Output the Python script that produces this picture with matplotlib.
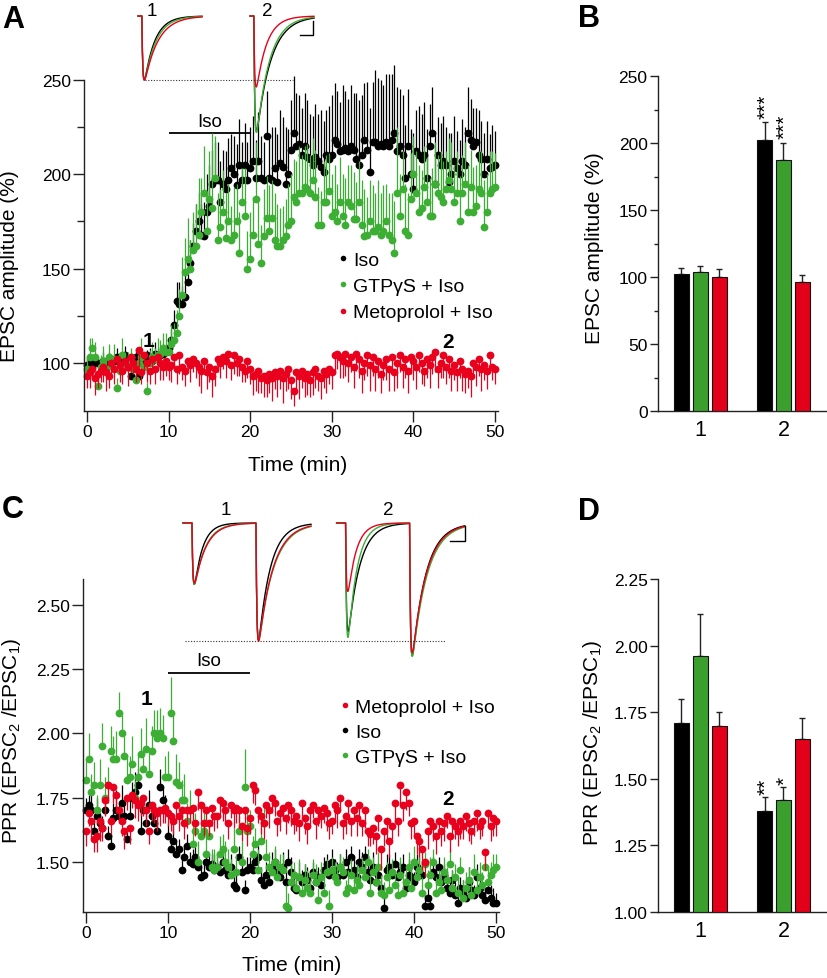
import numpy as np
import matplotlib
matplotlib.use('Agg')
import matplotlib.pyplot as plt
from matplotlib.lines import Line2D

plt.rcParams['font.family'] = ['Liberation Sans', 'DejaVu Sans']
plt.rcParams['mathtext.fontset'] = 'custom'
plt.rcParams['mathtext.rm'] = 'Liberation Sans'
plt.rcParams['mathtext.it'] = 'Liberation Sans:italic'
plt.rcParams['mathtext.bf'] = 'Liberation Sans:bold'

# ---------------- colours ----------------
BLACK = '#000000'
GREEN = '#3cae34'
RED = '#e8001c'
BAR_GREEN = '#3a9f2c'
BAR_RED = '#e2001a'

SAMPLES_PER_MIN = 3          # one sweep every 20 s
ISO_ON, ISO_OFF = 10, 20     # Iso application (min)

# ---------------- Panel A: EPSC amplitude (%) time courses ----------------
iso_amp = [
    99, 100, 98, 101, 100, 99, 101, 100, 102, 99,
    101, 103, 100, 102, 104, 98, 93, 101, 103, 93,
    100, 102, 104, 103, 101, 105, 103, 104, 105, 106,
    108, 112, 120, 133, 131, 131, 135, 143, 153, 162,
    170, 175, 168, 167, 180, 183, 195, 197, 197, 185,
    195, 192, 197, 203, 200, 194, 205, 197, 205, 197,
    203, 207, 198, 207, 198, 197, 220, 198, 197, 203,
    196, 206, 204, 195, 200, 213, 222, 215, 216, 210,
    215, 209, 208, 205, 209, 207, 204, 201, 210, 208,
    210, 218, 216, 212, 213, 214, 212, 215, 213, 208,
    205, 210, 218, 213, 201, 217, 217, 215, 216, 215,
    217, 215, 218, 222, 212, 215, 210, 198, 215, 200,
    192, 212, 210, 208, 210, 198, 215, 222, 195, 210,
    205, 207, 205, 196, 200, 207, 203, 200, 207, 205,
    222, 218, 215, 217, 210, 208, 200, 208, 203, 204,
    205]
iso_amp_err = [
    4, 3, 5, 4, 3, 4, 5, 3, 4, 5,
    4, 5, 3, 4, 5, 6, 4, 3, 5, 4,
    5, 4, 3, 5, 4, 6, 5, 4, 5, 4,
    5, 6, 8, 10, 12, 10, 12, 13, 12, 12,
    14, 15, 16, 18, 20, 22, 18, 20, 20, 22,
    18, 20, 22, 18, 20, 22, 24, 20, 22, 20,
    22, 24, 20, 26, 22, 20, 24, 23, 28, 22,
    25, 28, 26, 30, 24, 26, 30, 28, 26, 25,
    28, 30, 24, 26, 28, 25, 30, 27, 24, 28,
    32, 30, 28, 26, 34, 30, 28, 32, 30, 35,
    34, 32, 30, 36, 34, 32, 38, 36, 34, 32,
    36, 38, 35, 36, 34, 30, 32, 28, 30, 24,
    30, 22, 26, 24, 28, 26, 22, 24, 28, 20,
    22, 24, 20, 26, 22, 24, 20, 18, 22, 20,
    24, 22, 20, 18, 24, 20, 22, 20, 18, 22,
    18]
gtp_amp = [
    97, 103, 108, 103, 88, 98, 101, 97, 103, 99,
    102, 87, 96, 104, 100, 98, 103, 97, 91, 100,
    103, 98, 85, 100, 103, 102, 104, 105, 108, 106,
    106, 110, 112, 116, 125, 136, 148, 155, 150, 160,
    162, 168, 180, 190, 170, 187, 182, 198, 165, 172,
    180, 166, 175, 165, 168, 175, 158, 185, 178, 150,
    155, 168, 187, 163, 153, 167, 177, 170, 177, 165,
    162, 162, 165, 167, 173, 175, 188, 185, 190, 190,
    193, 192, 190, 197, 188, 173, 173, 185, 185, 191,
    178, 180, 175, 185, 178, 173, 185, 183, 176, 176,
    185, 173, 167, 168, 175, 170, 170, 172, 168, 170,
    175, 168, 165, 158, 190, 178, 192, 170, 168, 187,
    200, 190, 180, 182, 193, 185, 178, 178, 195, 190,
    188, 185, 192, 197, 192, 185, 190, 175, 190, 195,
    180, 193, 180, 183, 192, 190, 172, 180, 190, 192,
    193]
gtp_amp_err = [
    6, 10, 5, 8, 4, 6, 8, 5, 7, 6,
    8, 5, 7, 9, 6, 8, 5, 7, 6, 8,
    10, 6, 5, 7, 8, 6, 9, 7, 8, 10,
    8, 10, 9, 12, 14, 20, 18, 22, 15, 20,
    22, 30, 18, 25, 20, 25, 40, 22, 25, 20,
    22, 24, 20, 18, 25, 20, 22, 18, 25, 20,
    25, 20, 30, 22, 20, 25, 22, 24, 20, 25,
    22, 20, 18, 20, 22, 25, 20, 22, 25, 20,
    22, 24, 20, 22, 25, 20, 18, 22, 25, 20,
    22, 25, 20, 24, 22, 25, 20, 22, 25, 20,
    22, 24, 25, 20, 22, 24, 20, 25, 22, 24,
    20, 22, 25, 28, 35, 22, 20, 25, 22, 24,
    20, 22, 25, 20, 22, 24, 20, 25, 22, 20,
    24, 22, 20, 22, 25, 20, 22, 24, 20, 22,
    25, 20, 24, 22, 20, 22, 25, 20, 22, 20,
    18]
meto_amp = [
    93, 95, 97, 92, 94, 96, 98, 95, 93, 100,
    97, 102, 99, 96, 101, 98, 103, 100, 97, 107,
    95, 104, 100, 96, 102, 97, 103, 100, 98, 101,
    98, 99, 103, 97, 104, 98, 96, 101, 99, 102,
    100, 98, 96, 101, 95, 98, 93, 97, 102, 100,
    103, 101, 105, 99, 104, 100, 102, 98, 96, 101,
    97, 93, 94, 96, 92, 93, 91, 94, 92, 95,
    93, 96, 92, 94, 97, 91, 85, 95, 93, 96,
    92, 94, 91, 95, 97, 93, 92, 96, 94, 97,
    95, 104, 105, 103, 101, 105, 100, 103, 98, 105,
    102, 96, 100, 104, 99, 103, 97, 101, 94, 99,
    102, 97, 103, 95, 100, 104, 98, 102, 96, 103,
    101, 98, 104, 100, 96, 102, 99, 103, 106, 97,
    100, 104, 98, 102, 96, 99, 95, 101, 97, 94,
    96, 93, 100, 98, 102, 97, 99, 96, 104, 98,
    97]
meto_amp_err = [
    6, 8, 5, 9, 7, 6, 8, 10, 6, 7,
    8, 5, 9, 7, 6, 10, 8, 6, 7, 9,
    6, 8, 10, 7, 5, 8, 6, 9, 7, 8,
    7, 9, 6, 8, 10, 7, 8, 6, 9, 7,
    8, 10, 12, 7, 9, 8, 11, 9, 7, 8,
    6, 9, 7, 8, 10, 7, 9, 8, 6, 9,
    8, 10, 9, 12, 8, 11, 9, 10, 12, 9,
    11, 10, 13, 9, 11, 10, 8, 10, 12, 9,
    10, 11, 9, 12, 10, 8, 11, 9, 10, 8,
    9, 10, 8, 11, 9, 12, 10, 8, 11, 9,
    10, 12, 9, 11, 14, 10, 12, 9, 10, 8,
    11, 12, 9, 10, 13, 9, 11, 10, 12, 9,
    10, 12, 9, 11, 8, 10, 12, 9, 11, 10,
    8, 12, 9, 10, 11, 8, 10, 9, 12, 10,
    9, 11, 8, 10, 9, 12, 8, 10, 9, 7,
    8]

# ---------------- Panel C: paired-pulse ratio time courses ----------------
iso_ppr = [
    1.70, 1.72, 1.70, 1.62, 1.68, 1.65, 1.63, 1.70, 1.60, 1.56,
    1.67, 1.70, 1.68, 1.73, 1.68, 1.59, 1.68, 1.75, 1.77, 1.80,
    1.62, 1.70, 1.65, 1.72, 1.68, 1.65, 1.62, 1.79, 1.74, 1.70,
    1.60, 1.55, 1.58, 1.53, 1.55, 1.47, 1.52, 1.56, 1.50, 1.49,
    1.52, 1.48, 1.44, 1.45, 1.50, 1.48, 1.49, 1.47, 1.48, 1.46,
    1.50, 1.47, 1.45, 1.48, 1.41, 1.40, 1.52, 1.46, 1.39, 1.47,
    1.48, 1.47, 1.50, 1.52, 1.43, 1.41, 1.45, 1.42, 1.48, 1.50,
    1.46, 1.44, 1.48, 1.42, 1.50, 1.46, 1.40, 1.39, 1.44, 1.42,
    1.45, 1.43, 1.40, 1.46, 1.42, 1.44, 1.41, 1.47, 1.49, 1.45,
    1.50, 1.47, 1.44, 1.48, 1.45, 1.50, 1.46, 1.52, 1.47, 1.44,
    1.50, 1.48, 1.52, 1.46, 1.43, 1.48, 1.42, 1.45, 1.40, 1.32,
    1.47, 1.48, 1.45, 1.49, 1.44, 1.46, 1.48, 1.40, 1.45, 1.44,
    1.42, 1.48, 1.46, 1.45, 1.33, 1.36, 1.33, 1.46, 1.44, 1.48,
    1.42, 1.45, 1.40, 1.38, 1.43, 1.37, 1.34, 1.40, 1.38, 1.36,
    1.42, 1.39, 1.37, 1.44, 1.40, 1.37, 1.35, 1.39, 1.36, 1.34,
    1.34]
iso_ppr_err = [
    .05, .04, .06, .05, .07, .04, .05, .06, .04, .05,
    .06, .08, .05, .07, .06, .05, .07, .06, .08, .06,
    .09, .05, .07, .06, .05, .08, .06, .07, .05, .06,
    .05, .04, .06, .05, .04, .05, .04, .05, .04, .06,
    .05, .04, .05, .06, .04, .05, .04, .06, .05, .04,
    .05, .04, .06, .05, .04, .05, .04, .05, .04, .05,
    .04, .05, .04, .06, .05, .04, .05, .04, .06, .05,
    .04, .05, .06, .04, .05, .06, .05, .04, .06, .05,
    .04, .05, .06, .04, .05, .04, .06, .05, .04, .05,
    .05, .04, .06, .05, .04, .05, .06, .04, .05, .04,
    .05, .06, .04, .05, .04, .06, .05, .04, .05, .04,
    .06, .05, .04, .05, .06, .04, .05, .04, .06, .05,
    .04, .05, .06, .05, .04, .05, .04, .06, .05, .04,
    .05, .04, .06, .05, .04, .05, .06, .04, .05, .04,
    .06, .05, .04, .05, .06, .04, .05, .04, .05, .06,
    .04]
gtp_ppr = [
    1.82, 1.90, 1.77, 1.80, 1.70, 1.80, 1.95, 1.75, 1.80, 1.93,
    1.90, 1.90, 2.08, 2.00, 1.91, 1.82, 1.83, 1.88, 1.75, 1.83,
    1.92, 1.86, 1.94, 1.84, 1.93, 2.00, 1.98, 2.00, 1.98, 1.83,
    1.83, 2.08, 1.97, 1.81, 1.80, 1.74, 1.74, 1.66, 1.70, 1.57,
    1.62, 1.50, 1.60, 1.62, 1.53, 1.60, 1.48, 1.47, 1.48, 1.53,
    1.55, 1.50, 1.48, 1.45, 1.55, 1.46, 1.62, 1.50, 1.79, 1.62,
    1.64, 1.53, 1.57, 1.47, 1.58, 1.65, 1.52, 1.48, 1.46, 1.50,
    1.44, 1.48, 1.47, 1.33, 1.32, 1.42, 1.45, 1.40, 1.44, 1.38,
    1.43, 1.40, 1.38, 1.45, 1.42, 1.35, 1.44, 1.38, 1.46, 1.33,
    1.47, 1.44, 1.42, 1.48, 1.46, 1.38, 1.40, 1.45, 1.39, 1.43,
    1.41, 1.47, 1.44, 1.50, 1.38, 1.46, 1.42, 1.48, 1.38, 1.37,
    1.44, 1.39, 1.46, 1.41, 1.37, 1.45, 1.38, 1.42, 1.48, 1.40,
    1.50, 1.44, 1.47, 1.38, 1.49, 1.41, 1.45, 1.50, 1.38, 1.42,
    1.39, 1.46, 1.43, 1.49, 1.40, 1.44, 1.38, 1.47, 1.36, 1.40,
    1.43, 1.37, 1.46, 1.39, 1.44, 1.41, 1.48, 1.42, 1.45, 1.47,
    1.48]
gtp_ppr_err = [
    .08, .10, .07, .09, .06, .10, .09, .08, .07, .10,
    .09, .11, .08, .07, .09, .10, .08, .11, .07, .09,
    .10, .08, .12, .09, .10, .09, .11, .10, .09, .08,
    .10, .14, .10, .11, .09, .08, .10, .07, .08, .09,
    .07, .08, .06, .07, .08, .06, .07, .08, .06, .07,
    .06, .08, .07, .06, .08, .07, .06, .08, .15, .07,
    .06, .07, .06, .08, .05, .06, .07, .06, .05, .06,
    .07, .05, .06, .08, .06, .07, .05, .06, .07, .05,
    .06, .07, .05, .06, .07, .05, .06, .07, .05, .06,
    .05, .06, .07, .05, .06, .05, .07, .06, .05, .06,
    .07, .05, .06, .05, .07, .06, .05, .06, .07, .05,
    .06, .07, .05, .06, .05, .07, .06, .05, .06, .07,
    .06, .05, .07, .06, .05, .06, .07, .05, .06, .05,
    .07, .06, .05, .06, .07, .05, .06, .05, .07, .06,
    .05, .06, .07, .05, .06, .05, .07, .06, .05, .06,
    .05]
meto_ppr = [
    1.62, 1.69, 1.66, 1.59, 1.60, 1.66, 1.63, 1.74, 1.80, 1.66,
    1.79, 1.76, 1.70, 1.66, 1.62, 1.75, 1.63, 1.76, 1.74, 1.72,
    1.73, 1.75, 1.70, 1.62, 1.72, 1.70, 1.69, 1.70, 1.70, 1.71,
    1.69, 1.68, 1.66, 1.72, 1.68, 1.70, 1.65, 1.70, 1.70, 1.71,
    1.65, 1.77, 1.72, 1.65, 1.70, 1.65, 1.71, 1.68, 1.68, 1.74,
    1.73, 1.70, 1.65, 1.72, 1.70, 1.71, 1.70, 1.64, 1.70, 1.63,
    1.67, 1.80, 1.78, 1.70, 1.68, 1.65, 1.72, 1.70, 1.75, 1.73,
    1.66, 1.69, 1.71, 1.67, 1.72, 1.70, 1.66, 1.68, 1.65, 1.73,
    1.67, 1.64, 1.70, 1.72, 1.66, 1.70, 1.68, 1.71, 1.69, 1.65,
    1.66, 1.72, 1.70, 1.75, 1.65, 1.68, 1.73, 1.66, 1.70, 1.67,
    1.72, 1.65, 1.70, 1.62, 1.61, 1.63, 1.60, 1.67, 1.55, 1.62,
    1.66, 1.58, 1.64, 1.73, 1.66, 1.80, 1.72, 1.77, 1.73, 1.65,
    1.66, 1.60, 1.58, 1.55, 1.50, 1.62, 1.66, 1.64, 1.60, 1.66,
    1.62, 1.65, 1.68, 1.60, 1.66, 1.64, 1.62, 1.66, 1.64, 1.68,
    1.65, 1.62, 1.66, 1.69, 1.64, 1.66, 1.54, 1.69, 1.64, 1.67,
    1.66]
meto_ppr_err = [
    .06, .05, .07, .05, .06, .08, .05, .06, .07, .05,
    .06, .07, .05, .06, .07, .05, .06, .05, .07, .06,
    .05, .07, .06, .05, .06, .05, .07, .06, .05, .06,
    .05, .06, .05, .07, .06, .05, .06, .07, .05, .06,
    .05, .07, .06, .05, .06, .05, .07, .06, .05, .06,
    .07, .05, .06, .05, .07, .06, .05, .06, .05, .07,
    .06, .07, .06, .05, .07, .06, .05, .07, .06, .05,
    .06, .07, .05, .06, .07, .06, .05, .06, .07, .05,
    .06, .07, .06, .05, .07, .06, .05, .06, .07, .06,
    .05, .06, .07, .05, .06, .07, .05, .06, .05, .07,
    .06, .05, .07, .06, .05, .06, .07, .05, .08, .06,
    .07, .06, .05, .07, .06, .08, .06, .07, .05, .06,
    .06, .07, .06, .08, .06, .07, .05, .06, .07, .05,
    .06, .07, .05, .06, .07, .05, .06, .07, .05, .06,
    .07, .05, .06, .07, .05, .06, .07, .05, .06, .07,
    .06]

# ---------------- Panels B & D: summary bars ----------------
bar_groups = ['1', '2']
amp_iso_mean, amp_iso_sem = [102, 202], [4.5, 13.5]
amp_gtp_mean, amp_gtp_sem = [104, 187], [4, 13]
amp_meto_mean, amp_meto_sem = [100, 96], [6, 5.5]
amp_stars = {0: ['', '***'], 1: ['', '***'], 2: ['', '']}

ppr_iso_mean, ppr_iso_sem = [1.71, 1.38], [0.09, 0.05]
ppr_gtp_mean, ppr_gtp_sem = [1.96, 1.42], [0.16, 0.05]
ppr_meto_mean, ppr_meto_sem = [1.70, 1.65], [0.05, 0.08]
ppr_stars = {0: ['', '**'], 1: ['', '*'], 2: ['', '']}

# ---------------- example traces (peak amplitude, decay tau in ms) ----------------
# order: Iso (black), GTPgS + Iso (green), Metoprolol + Iso (red)
trA_amp = {1: [100, 100, 100], 2: [180, 182, 111]}
trA_tau = {1: [8.0, 9.0, 10.5], 2: [11.0, 10.0, 8.0]}
trC_amp = {1: [[52, 99], [52, 99], [51, 100]], 2: [[92, 112], [97, 113], [58, 110]]}
trC_tau = {1: [[6.5, 9.0], [8.5, 11.5], [9.0, 11.0]], 2: [[9.0, 10.5], [7.0, 11.5], [6.5, 11.0]]}

# ======================================================================
W, H = 828, 979
fig = plt.figure(figsize=(W / 100, H / 100), dpi=100)


def rect(x0, y0, x1, y1):
    return [x0 / W, 1 - y1 / H, (x1 - x0) / W, (y1 - y0) / H]


SPINE = '#222222'


def style(ax):
    for s in ('top', 'right'):
        ax.spines[s].set_visible(False)
    for s in ('left', 'bottom'):
        ax.spines[s].set_linewidth(1.0)
        ax.spines[s].set_color(SPINE)
    ax.tick_params(which='both', direction='out', color=SPINE, width=1.0,
                   labelsize=12.5, pad=1.5)
    ax.tick_params(which='major', length=8)
    ax.tick_params(which='minor', length=5)


def timecourse(ax, y, e, color, up, z):
    y = np.asarray(y, float)
    e = np.asarray(e, float)
    t = np.arange(len(y)) / SAMPLES_PER_MIN
    if up:
        ax.vlines(t, y, y + e, colors=color, lw=0.9, zorder=z, clip_on=False)
    else:
        ax.vlines(t, y - e, y, colors=color, lw=0.9, zorder=z, clip_on=False)
    ax.plot(t, y, 'o', ms=5.6, color=color, mew=0, zorder=z + 0.1, clip_on=False)


def epsc(t, onset, amp, tau_d, tau_r=0.7):
    s = np.clip(t - onset, 0, None)
    tp = np.log(tau_d / tau_r) * tau_d * tau_r / (tau_d - tau_r)
    peak = np.exp(-tp / tau_d) - np.exp(-tp / tau_r)
    return -amp * (np.exp(-s / tau_d) - np.exp(-s / tau_r)) / peak


TR_COLORS = [BLACK, GREEN, RED]
LEG_MS = 4.0

# ---------------- Panel A ----------------
axA = fig.add_axes(rect(84, 80.7, 498, 412))
style(axA)
axA.set_xlim(-0.37, 50.37)
axA.set_ylim(74.6, 250)
axA.set_xticks(range(0, 51, 10))
axA.set_yticks([100, 150, 200, 250])
axA.set_yticks([125, 175, 225], minor=True)
timecourse(axA, iso_amp, iso_amp_err, BLACK, True, 2.0)
timecourse(axA, gtp_amp, gtp_amp_err, GREEN, True, 2.2)
timecourse(axA, meto_amp, meto_amp_err, RED, False, 2.4)
axA.plot([ISO_ON, ISO_OFF], [221.6, 221.6], color=BLACK, lw=1.3, solid_capstyle='butt')
axA.text((ISO_ON + ISO_OFF) / 2, 228, 'Iso', ha='center', va='center', fontsize=13.5)
axA.text(7.5, 112, '1', ha='center', va='center', fontsize=15, fontweight='bold')
axA.text(44.3, 111.5, '2', ha='center', va='center', fontsize=15, fontweight='bold')
hA = [Line2D([], [], ls='', marker='o', ms=LEG_MS, color=c, mew=0) for c in (BLACK, GREEN, RED)]
axA.legend(hA, ['Iso', 'GTP\u03b3S + Iso', 'Metoprolol + Iso'], loc='upper left',
           bbox_to_anchor=((338.8 - 84) / 414, (412 - 252) / 331.3), frameon=False,
           fontsize=14, handlelength=0.45, handletextpad=0.3, labelspacing=0.45,
           borderpad=0, borderaxespad=0)

# inset traces for A
insA = fig.add_axes(rect(130, 5, 320, 140))
insA.set_axis_off()
insA.set_xlim(-6.25, 142.2)
insA.set_ylim(-192.2, 18.75)
tt = np.linspace(0, 50, 501)
for k, offset in ((1, 0.0), (2, 87.5)):
    for c, amp, tau in zip(TR_COLORS, trA_amp[k], trA_tau[k]):
        insA.plot(tt + offset, epsc(tt, 3.0, amp, tau), color=c, lw=1.0)
insA.plot([5.5, 121], [-100, -100], color='#333333', lw=0.8, ls=(0, (1, 1.5)))
insA.plot([126.6, 136.7, 136.7], [-29.7, -29.7, -7.8], color=BLACK, lw=1.0)
insA.text(10.9, 8.0, '1', ha='center', va='center', fontsize=13.5)
insA.text(100.8, 8.0, '2', ha='center', va='center', fontsize=13.5)

# ---------------- Panel C ----------------
axC = fig.add_axes(rect(83, 580, 499, 913))
style(axC)
axC.set_xlim(-0.37, 50.37)
axC.set_ylim(1.305, 2.60)
axC.set_xticks(range(0, 51, 10))
axC.set_yticks([1.50, 1.75, 2.00, 2.25, 2.50])
axC.set_yticklabels(['1.50', '1.75', '2.00', '2.25', '2.50'])
timecourse(axC, iso_ppr, iso_ppr_err, BLACK, True, 2.0)
timecourse(axC, gtp_ppr, gtp_ppr_err, GREEN, True, 2.2)
timecourse(axC, meto_ppr, meto_ppr_err, RED, False, 2.4)
axC.plot([ISO_ON, ISO_OFF], [2.235, 2.235], color=BLACK, lw=1.3, solid_capstyle='butt')
axC.text((ISO_ON + ISO_OFF) / 2, 2.282, 'Iso', ha='center', va='center', fontsize=13.5)
axC.text(7.4, 2.134, '1', ha='center', va='center', fontsize=15, fontweight='bold')
axC.text(44.2, 1.745, '2', ha='center', va='center', fontsize=15, fontweight='bold')
hC = [Line2D([], [], ls='', marker='o', ms=LEG_MS, color=c, mew=0) for c in (RED, BLACK, GREEN)]
axC.legend(hC, ['Metoprolol + Iso', 'Iso', 'GTP\u03b3S + Iso'], loc='upper left',
           bbox_to_anchor=((340.8 - 83) / 416, (913 - 699) / 333), frameon=False,
           fontsize=14, handlelength=0.45, handletextpad=0.3, labelspacing=0.38,
           borderpad=0, borderaxespad=0)

# inset traces for C
insC = fig.add_axes(rect(175, 500, 475, 665))
insC.set_axis_off()
insC.set_xlim(-6.25, 228.1)
insC.set_ylim(-119.5, 20.3)
tt = np.linspace(0, 100, 1001)
for k, offset in ((1, 0.0), (2, 120.0)):
    for c, amps, taus in zip(TR_COLORS, trC_amp[k], trC_tau[k]):
        v = epsc(tt, 7.0, amps[0], taus[0]) + epsc(tt, 57.0, amps[1], taus[1])
        insC.plot(tt + offset, v, color=c, lw=1.0)
insC.plot([1.6, 204.7], [-100, -100], color='#333333', lw=0.8, ls=(0, (1, 1.5)))
insC.plot([208.6, 220.3, 220.3], [-15.3, -15.3, -2.5], color=BLACK, lw=1.0)
insC.text(33.6, 11.0, '1', ha='center', va='center', fontsize=13.5)
insC.text(160.2, 11.0, '2', ha='center', va='center', fontsize=13.5)

# ---------------- Bar panels ----------------
BAR_OFF = 0.226
BAR_W = 0.18


def bars(ax, series, stars, gap):
    gx = np.arange(1, len(bar_groups) + 1)
    for k, (means, sems, color) in enumerate(series):
        x = gx + (k - 1) * BAR_OFF
        means = np.asarray(means, float)
        sems = np.asarray(sems, float)
        ax.bar(x, means - ax.get_ylim()[0], bottom=ax.get_ylim()[0], width=BAR_W,
               color=color, edgecolor='#111111', lw=0.8, zorder=3)
        ax.errorbar(x, means, yerr=[np.zeros_like(sems), sems], fmt='none',
                    ecolor='#222222', elinewidth=1.0, capsize=2.5, capthick=1.0, zorder=2)
        for j in range(len(gx)):
            if stars[k][j]:
                ax.text(x[j] + 0.02, means[j] + sems[j] + gap, stars[k][j], rotation=90,
                        ha='center', va='bottom', fontsize=15)
    ax.set_xticks(gx)
    ax.set_xticklabels(bar_groups)
    ax.tick_params(axis='x', length=0, labelsize=15.5, pad=6)
    ax.set_xlim(0.492, 2.523)


axB = fig.add_axes(rect(658, 77, 827, 412))
style(axB)
axB.tick_params(which='major', length=6)
axB.tick_params(which='minor', length=3)
axB.set_ylim(0, 250)
axB.set_yticks(range(0, 251, 50))
axB.set_yticks(range(25, 250, 50), minor=True)
bars(axB, [(amp_iso_mean, amp_iso_sem, BLACK), (amp_gtp_mean, amp_gtp_sem, BAR_GREEN),
           (amp_meto_mean, amp_meto_sem, BAR_RED)], amp_stars, 3.5)

axD = fig.add_axes(rect(658, 580, 827, 913))
style(axD)
axD.tick_params(which='major', length=6)
axD.set_ylim(1.0, 2.25)
axD.set_yticks([1.00, 1.25, 1.50, 1.75, 2.00, 2.25])
axD.set_yticklabels(['1.00', '1.25', '1.50', '1.75', '2.00', '2.25'])
bars(axD, [(ppr_iso_mean, ppr_iso_sem, BLACK), (ppr_gtp_mean, ppr_gtp_sem, BAR_GREEN),
           (ppr_meto_mean, ppr_meto_sem, BAR_RED)], ppr_stars, 0.012)

# ---------------- labels ----------------
fig.text(10 / W, 1 - 266 / H, 'EPSC amplitude (%)', rotation=90, ha='center', va='center', fontsize=15)
fig.text(595 / W, 1 - 248 / H, 'EPSC amplitude (%)', rotation=90, ha='center', va='center', fontsize=15)
fig.text(12 / W, 1 - 741 / H, r'PPR (EPSC$_2$ /EPSC$_1$)', rotation=90, ha='center', va='center', fontsize=15)
fig.text(593 / W, 1 - 743 / H, r'PPR (EPSC$_2$ /EPSC$_1$)', rotation=90, ha='center', va='center', fontsize=15)
fig.text(298 / W, 1 - 466 / H, 'Time (min)', ha='center', va='center', fontsize=15)
fig.text(292 / W, 1 - 966 / H, 'Time (min)', ha='center', va='center', fontsize=15)

for lab, x, yb in (('A', 2, 28), ('B', 578, 27), ('C', 2, 518), ('D', 578, 520)):
    fig.text(x / W, 1 - yb / H, lab, ha='left', va='baseline', fontsize=22, fontweight='bold')

fig.savefig('out.png', dpi=100)
